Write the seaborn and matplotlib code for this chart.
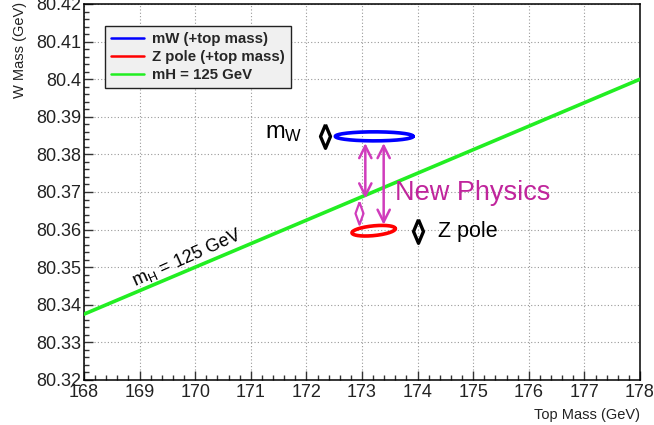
import numpy as np
import pandas as pd
import matplotlib
matplotlib.use("Agg")
import matplotlib.pyplot as plt
from matplotlib.lines import Line2D
from matplotlib.ticker import MultipleLocator, FixedLocator
import seaborn as sns

# ---- data ----
x_range = [168, 178]
y_range = [80.32, 80.42]
x_ticks = [168, 169, 170, 171, 172, 173, 174, 175, 176, 177, 178]
y_ticks = [80.32, 80.33, 80.34, 80.35, 80.36, 80.37, 80.38, 80.39, 80.40, 80.41, 80.42]
y_tick_labels = ["80.32", "80.33", "80.34", "80.35", "80.36", "80.37", "80.38", "80.39", "80.4", "80.41", "80.42"]

mh_line_top = [168, 178]
mh_line_mw = [80.3375, 80.400]

# ellipses: center x, center y, semi-axis x, semi-axis y, tilt (dy/dx)
mw_ellipse = [173.22, 80.3848, 0.70, 0.0012, 0.0]
z_ellipse = [173.21, 80.3597, 0.39, 0.0013, 0.0014]

# error diamonds (x, y)
mw_err = [172.34, 80.3848]
z_err = [174.00, 80.3597]

# New physics arrows: x, y_start, y_end
arrows_x = [173.06, 173.39]
arrows_y0 = [80.3830, 80.3830]
arrows_y1 = [80.3683, 80.3613]
small_diamond = [172.94, 80.3645]

legend_labels = ["mW (+top mass)", "Z pole (+top mass)", "mH = 125 GeV"]
legend_colors = ["#0000ff", "#ff0000", "#22ee22"]

# ---- style ----
sns.set_theme(style="white")
plt.rcParams["font.family"] = ["Liberation Sans", "DejaVu Sans"]
plt.rcParams["mathtext.fontset"] = "custom"
plt.rcParams["mathtext.rm"] = "Liberation Sans"
plt.rcParams["mathtext.it"] = "Liberation Sans"

fig = plt.figure(figsize=(6.54, 4.25), dpi=100)
ax = fig.add_axes([0.1284, 0.1059, 0.8502, 0.8847])
ax.set_facecolor("white")

ax.set_xlim(*x_range)
ax.set_ylim(*y_range)

# green mH line
df = pd.DataFrame({"top": mh_line_top, "mw": mh_line_mw})
sns.lineplot(data=df, x="top", y="mw", ax=ax, color=legend_colors[2], linewidth=2.6, zorder=3)

def draw_ellipse(e, color):
    cx, cy, a, b, k = e
    t = np.linspace(0, 2 * np.pi, 200)
    xs = cx + a * np.cos(t)
    ys = cy + b * np.sin(t) + k * (xs - cx)
    ax.plot(xs, ys, color=color, linewidth=2.6, zorder=4)

draw_ellipse(mw_ellipse, legend_colors[0])
draw_ellipse(z_ellipse, legend_colors[1])

narrow_diamond = [(0, 1), (0.42, 0), (0, -1), (-0.42, 0), (0, 1)]
thin_diamond = [(0, 1), (0.36, 0), (0, -1), (-0.36, 0), (0, 1)]

# error diamonds
for pt in (mw_err, z_err):
    ax.plot([pt[0]], [pt[1]], marker=narrow_diamond, markersize=17, markerfacecolor="none",
            markeredgecolor="black", markeredgewidth=2.4, linestyle="none", zorder=5)

arrow_color = "#d03cbc"
for xa, y0, y1 in zip(arrows_x, arrows_y0, arrows_y1):
    ax.annotate("", xy=(xa, y1), xytext=(xa, y0),
                arrowprops=dict(arrowstyle="<->", color=arrow_color, lw=1.8,
                                shrinkA=0, shrinkB=0, mutation_scale=22), zorder=6)
ax.plot([small_diamond[0]], [small_diamond[1]], marker=thin_diamond, markersize=16, markerfacecolor="none",
        markeredgecolor=arrow_color, markeredgewidth=1.6, linestyle="none", zorder=6)

# texts
ax.text(171.26, 80.3843, r"$\mathrm{m_W}$", fontsize=17, ha="left", va="baseline", color="black")
ax.text(173.60, 80.3680, "New Physics", fontsize=19.5, ha="left", va="baseline", color="#c0259c")
ax.text(174.36, 80.3579, "Z pole", fontsize=15.5, ha="left", va="baseline", color="black")
ax.text(169.85, 80.3525, r"$\mathrm{m_H}$ = 125 GeV", fontsize=13, rotation=24,
        ha="center", va="center", rotation_mode="anchor", color="black")

# ticks
ax.xaxis.set_major_locator(FixedLocator(x_ticks))
ax.yaxis.set_major_locator(FixedLocator(y_ticks))
ax.set_yticklabels(y_tick_labels)
ax.xaxis.set_minor_locator(MultipleLocator(0.2))
ax.yaxis.set_minor_locator(MultipleLocator(0.002))
ax.tick_params(axis="both", which="major", direction="in", length=6.5, width=1.0,
               labelsize=13, color="#333333", labelcolor="#222222",
               top=False, right=False, left=True, bottom=True)
ax.tick_params(axis="both", which="minor", direction="in", length=3.8, width=1.0,
               color="#333333", top=False, right=False, left=True, bottom=True)
ax.tick_params(axis="y", which="major", pad=2)
ax.tick_params(axis="x", which="major", pad=3)

ax.grid(True, which="major", linestyle=(0, (1, 2)), color="#999999", linewidth=0.8)
ax.set_axisbelow(True)
for s in ax.spines.values():
    s.set_color("black")
    s.set_linewidth(1.1)

ax.set_xlabel("")
ax.set_ylabel("")
fig.text(0.978, 0.008, "Top Mass (GeV)", ha="right", va="bottom", fontsize=10.5, color="#222222")
fig.text(0.030, 0.995, "W Mass (GeV)", ha="center", va="top", rotation=90, fontsize=10.5, color="#222222")

# legend
handles = [Line2D([0], [0], color=c, linewidth=1.8) for c in legend_colors]
leg = ax.legend(handles, legend_labels, loc="upper left", bbox_to_anchor=(0.038, 0.941),
                borderaxespad=0, frameon=True, fancybox=False, framealpha=1,
                facecolor="#f0f0f0", edgecolor="#222222", handlelength=2.2,
                handletextpad=0.55, labelspacing=0.26, borderpad=0.4,
                prop={"weight": "bold", "size": 10.8})
leg.get_frame().set_linewidth(1.0)

fig.savefig("out.png", dpi=100)
